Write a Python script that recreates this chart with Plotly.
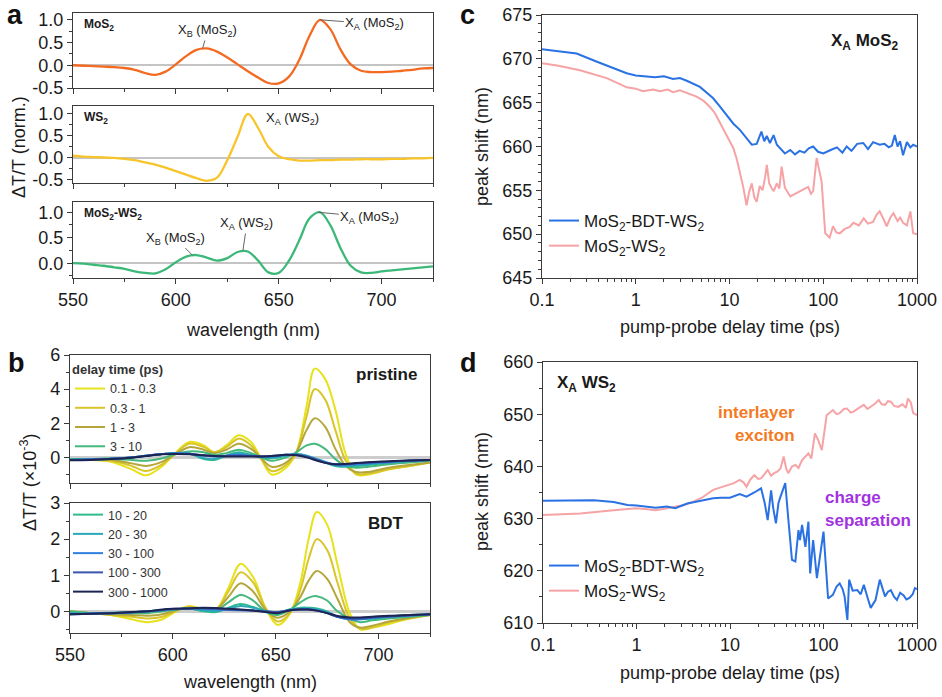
import plotly.graph_objects as go

W, H = 942, 697
FONT = "Liberation Sans, Arial, sans-serif"
AX = "#3a3a3a"

# ---------------- panel a : normalised spectra ----------------
wl_a = [550, 555, 560, 565, 570, 575, 580, 585, 590, 595, 600, 605, 610, 615, 620, 625, 630, 635,
        640, 645, 650, 655, 660, 665, 670, 675, 680, 685, 690, 695, 700, 705, 710, 715, 720, 725]
a_mos2 = [0.00, -0.01, -0.02, -0.03, -0.04, -0.06, -0.10, -0.17, -0.21, -0.14, 0.02, 0.20, 0.34, 0.37,
          0.30, 0.17, 0.02, -0.13, -0.27, -0.39, -0.40, -0.25, 0.12, 0.65, 1.00, 0.80, 0.35, 0.02,
          -0.12, -0.15, -0.15, -0.14, -0.12, -0.10, -0.07, -0.06]
a_ws2 = [0.05, 0.03, 0.02, 0.01, 0.00, -0.02, -0.05, -0.10, -0.15, -0.22, -0.30, -0.38, -0.46, -0.52,
         -0.45, -0.05, 0.48, 1.00, 0.68, 0.25, 0.04, -0.03, -0.06, -0.06, -0.05, -0.05, -0.04, -0.04,
         -0.03, -0.03, -0.03, -0.02, -0.02, -0.01, -0.01, 0.00]
a_hetero = [0.00, -0.01, -0.03, -0.05, -0.08, -0.11, -0.16, -0.19, -0.20, -0.12, 0.02, 0.13, 0.16, 0.11,
            0.05, 0.10, 0.22, 0.23, 0.05, -0.18, -0.19, 0.05, 0.45, 0.88, 1.00, 0.75, 0.30, -0.05,
            -0.18, -0.19, -0.16, -0.14, -0.12, -0.10, -0.08, -0.06]

# ---------------- panel b : spectra vs delay time ----------------
delay_labels = ["0.1 - 0.3", "0.3 - 1", "1 - 3", "3 - 10", "10 - 20",
                "20 - 30", "30 - 100", "100 - 300", "300 - 1000"]
delay_colors = ["#e6e21c", "#d9c42a", "#b4a63a", "#45b87c", "#2fba8c",
                "#2aa8b8", "#2f7fe0", "#3a55ae", "#1c2452"]

wl_b_pristine = [550, 560, 570, 580, 587, 595, 600, 608, 615, 620, 626, 632, 638, 643, 648, 655,
                 660, 665, 669, 674, 679, 684, 689, 695, 705, 715, 725]
pr_01_03 = [-0.1, -0.15, -0.25, -0.7, -1.05, -0.5, 0.1, 0.9, 0.7, 0.3, 0.7, 1.3, 0.9, -0.1, -1.0, -0.6,
            0.3, 3.0, 5.2, 4.6, 2.8, 0.2, -1.0, -1.0, -0.7, -0.5, -0.3]
pr_03_1 = [-0.1, -0.15, -0.2, -0.5, -0.8, -0.4, 0.1, 0.8, 0.6, 0.3, 0.6, 1.1, 0.7, -0.1, -0.8, -0.45,
           0.3, 2.4, 4.0, 3.4, 1.6, -0.2, -0.95, -0.95, -0.7, -0.5, -0.3]
pr_1_3 = [-0.1, -0.12, -0.15, -0.35, -0.5, -0.25, 0.1, 0.6, 0.45, 0.25, 0.45, 0.8, 0.5, -0.05, -0.55,
          -0.3, 0.3, 1.6, 2.3, 1.8, 0.5, -0.5, -0.85, -0.85, -0.6, -0.45, -0.3]
pr_3_10 = [-0.1, -0.1, -0.1, -0.15, -0.2, -0.05, 0.15, 0.35, 0.3, 0.15, 0.25, 0.45, 0.25, 0.0, -0.2,
           0.0, 0.3, 0.7, 0.8, 0.5, -0.1, -0.5, -0.6, -0.55, -0.4, -0.3, -0.2]
pr_10_20 = [-0.1, -0.1, -0.05, 0.0, 0.1, 0.2, 0.25, 0.25, -0.1, -0.15, 0.1, 0.3, 0.15, 0.0, -0.05,
            0.1, 0.2, 0.1, -0.1, -0.3, -0.5, -0.55, -0.5, -0.45, -0.3, -0.2, -0.15]
pr_20_30 = [-0.15, -0.12, -0.08, 0.0, 0.1, 0.2, 0.25, 0.22, -0.05, -0.1, 0.1, 0.25, 0.12, 0.05, 0.0,
            0.1, 0.2, 0.1, -0.05, -0.25, -0.45, -0.5, -0.45, -0.4, -0.3, -0.2, -0.15]
pr_30_100 = [-0.15, -0.12, -0.08, 0.0, 0.1, 0.2, 0.25, 0.22, 0.1, 0.05, 0.1, 0.15, 0.1, 0.05, 0.05,
             0.15, 0.15, 0.05, -0.1, -0.3, -0.45, -0.45, -0.4, -0.35, -0.28, -0.2, -0.15]
pr_100_300 = [-0.15, -0.12, -0.08, 0.0, 0.1, 0.2, 0.22, 0.2, 0.12, 0.08, 0.08, 0.1, 0.08, 0.05, 0.08,
              0.15, 0.15, 0.05, -0.1, -0.3, -0.4, -0.4, -0.35, -0.3, -0.25, -0.18, -0.15]
pr_300_1000 = [-0.17, -0.15, -0.1, -0.02, 0.08, 0.18, 0.2, 0.18, 0.12, 0.08, 0.06, 0.06, 0.06, 0.06,
               0.08, 0.15, 0.12, 0.0, -0.15, -0.32, -0.4, -0.38, -0.33, -0.28, -0.22, -0.18, -0.15]

wl_b_bdt = [550, 560, 570, 580, 588, 595, 601, 608, 615, 621, 627, 633, 639, 645, 651, 657, 662, 666,
            670, 675, 680, 686, 691, 697, 705, 715, 725]
bdt_01_03 = [0.0, -0.05, -0.1, -0.22, -0.3, -0.22, -0.02, 0.15, 0.05, 0.05, 0.65, 1.32, 0.95, 0.1,
             -0.38, -0.05, 0.8, 2.0, 2.75, 2.4, 1.3, -0.05, -0.5, -0.45, -0.35, -0.2, -0.1]
bdt_03_1 = [0.0, -0.05, -0.1, -0.15, -0.2, -0.15, 0.0, 0.12, 0.05, 0.05, 0.55, 1.08, 0.8, 0.1, -0.28,
            -0.05, 0.6, 1.45, 2.0, 1.7, 0.8, -0.2, -0.48, -0.45, -0.3, -0.2, -0.1]
bdt_1_3 = [0.0, -0.05, -0.08, -0.1, -0.12, -0.08, 0.02, 0.1, 0.05, 0.05, 0.4, 0.78, 0.55, 0.05, -0.18,
           0.0, 0.4, 0.85, 1.12, 0.9, 0.35, -0.3, -0.45, -0.4, -0.28, -0.18, -0.1]
bdt_3_10 = [0.0, -0.05, -0.05, -0.05, -0.05, 0.0, 0.05, 0.08, 0.03, 0.02, 0.25, 0.45, 0.3, 0.0, -0.1,
            0.05, 0.25, 0.38, 0.42, 0.3, 0.0, -0.2, -0.3, -0.25, -0.2, -0.15, -0.1]
bdt_10_20 = [-0.05, -0.05, -0.05, -0.03, 0.0, 0.03, 0.05, 0.08, 0.0, -0.02, 0.1, 0.2, 0.12, 0.0, -0.05,
             0.05, 0.1, 0.1, 0.08, 0.0, -0.15, -0.2, -0.2, -0.2, -0.15, -0.1, -0.1]
bdt_20_30 = [-0.05, -0.05, -0.04, -0.02, 0.0, 0.03, 0.06, 0.07, 0.03, 0.0, 0.08, 0.15, 0.1, 0.0, -0.03,
             0.05, 0.08, 0.08, 0.05, -0.02, -0.15, -0.22, -0.22, -0.2, -0.15, -0.1, -0.1]
bdt_30_100 = [-0.08, -0.07, -0.05, -0.03, 0.0, 0.04, 0.06, 0.08, 0.08, 0.06, 0.04, 0.03, 0.02, 0.0,
              -0.02, 0.03, 0.06, 0.06, 0.03, -0.05, -0.15, -0.22, -0.22, -0.18, -0.15, -0.12, -0.08]
bdt_100_300 = [-0.08, -0.07, -0.05, -0.03, 0.0, 0.04, 0.07, 0.08, 0.08, 0.07, 0.05, 0.04, 0.02, 0.0,
               -0.02, 0.03, 0.05, 0.05, 0.02, -0.05, -0.15, -0.2, -0.2, -0.17, -0.14, -0.11, -0.08]
bdt_300_1000 = [-0.08, -0.07, -0.05, -0.02, 0.0, 0.05, 0.07, 0.08, 0.1, 0.09, 0.07, 0.05, 0.02, -0.02,
                -0.05, 0.03, 0.05, 0.05, 0.02, -0.05, -0.13, -0.17, -0.17, -0.15, -0.12, -0.1, -0.08]

pristine_series = [pr_01_03, pr_03_1, pr_1_3, pr_3_10, pr_10_20, pr_20_30, pr_30_100, pr_100_300, pr_300_1000]
bdt_series = [bdt_01_03, bdt_03_1, bdt_1_3, bdt_3_10, bdt_10_20, bdt_20_30, bdt_30_100, bdt_100_300, bdt_300_1000]

# ---------------- panel c : X_A MoS2 peak shift ----------------
c_t_bdt = [0.1, 0.15, 0.234, 0.38, 0.55, 0.8, 1.0, 1.31, 1.6, 2.0, 2.5, 2.95, 3.5, 4.84, 6.7, 8, 9.3, 11,
           12.9, 15, 17.3, 19.5, 21.9, 23.5, 25, 27, 29.5, 32, 34.7, 39, 44.5, 50, 56, 63, 70, 78, 88,
           100, 120, 140, 160, 178, 200, 230, 267, 300, 340, 400, 450, 500, 540, 580, 620, 660, 710,
           780, 850, 910, 1000]
c_bdt = [671.1, 670.9, 670.6, 669.7, 669.0, 668.35, 668.1, 668.0, 667.9, 668.0, 667.7, 667.8, 667.5,
         666.8, 665.5, 664.5, 663.6, 662.6, 661.9, 661.0, 660.2, 660.3, 661.7, 660.6, 661.2, 660.4,
         661.3, 660.2, 659.8, 659.2, 659.6, 659.1, 659.5, 659.3, 659.8, 660.0, 659.4, 659.2, 659.6,
         659.9, 659.3, 660.0, 659.5, 660.3, 660.4, 659.7, 660.5, 660.2, 660.3, 659.9, 660.1, 661.3,
         660.0, 660.6, 659.0, 660.5, 659.9, 660.2, 660.0]
c_t_ref = [0.1, 0.15, 0.254, 0.35, 0.49, 0.65, 0.8, 1.0, 1.2, 1.53, 1.8, 2.2, 2.5, 2.95, 3.5, 4.46, 5.3,
           6.2, 7.0, 7.9, 9.0, 10, 11, 12, 13, 14, 15.2, 16.2, 17.3, 18.4, 19.5, 21, 22.5, 24, 25, 26.5,
           28, 29.6, 32, 34, 36, 39, 44.5, 50, 56, 62, 69, 74, 78, 85, 90, 96, 105, 117, 127, 138, 150,
           170, 190, 210, 240, 270, 300, 340, 370, 400, 440, 475, 520, 560, 620, 660, 710, 780, 850,
           910, 1000]
c_ref = [669.5, 669.2, 668.7, 668.3, 667.8, 667.2, 666.75, 666.6, 666.3, 666.5, 666.3, 666.5, 666.2,
         666.4, 666.1, 665.7, 665.2, 664.5, 663.8, 662.7, 661.5, 660.7, 659.8, 658.5, 657.0, 655.4,
         653.3, 654.8, 655.8, 654.2, 653.7, 655.5, 655.0, 656.5, 657.9, 655.8, 655.3, 654.9, 655.8,
         655.2, 657.7, 655.3, 654.3, 654.6, 654.9, 655.1, 655.4, 654.6, 654.9, 658.7, 657.5, 656.0,
         650.1, 649.6, 650.9, 650.2, 650.1, 650.6, 650.8, 651.3, 651.0, 651.8, 651.2, 651.4, 652.2,
         652.6, 651.7, 650.9, 651.9, 652.4, 651.5, 651.9, 651.3, 651.0, 652.6, 650.1, 650.0]

# ---------------- panel d : X_A WS2 peak shift ----------------
d_t_bdt = [0.1, 0.2, 0.35, 0.57, 0.8, 1.0, 1.3, 1.6, 2.1, 2.6, 3.5, 4.5, 5.5, 6.6, 8, 10, 12.7, 15, 18.2,
           21.5, 23.5, 25.3, 27.5, 29, 31, 33, 34.7, 37, 39, 42, 46, 50, 54, 56, 59, 64, 69, 72, 77.5,
           85, 92, 100, 112, 126, 138, 149, 160, 168, 180, 188, 205, 230, 250, 270, 300, 320, 360, 400,
           455, 490, 525, 570, 610, 660, 720, 770, 830, 900, 950, 1000]
d_bdt = [633.4, 633.4, 633.5, 633.2, 632.6, 632.5, 632.3, 632.1, 632.3, 632.0, 632.9, 633.3, 633.6,
         633.9, 634.0, 634.0, 634.7, 634.2, 635.0, 635.8, 633.0, 629.7, 635.4, 632.0, 629.1, 633.0,
         634.2, 635.5, 636.8, 630.0, 622.1, 621.8, 627.8, 625.9, 628.8, 624.6, 629.4, 619.5, 625.9,
         618.6, 622.7, 627.5, 614.7, 615.4, 617.0, 617.6, 616.5, 615.1, 610.6, 618.3, 616.2, 616.3,
         615.5, 617.3, 614.5, 612.9, 614.4, 618.3, 615.1, 616.0, 616.3, 615.0, 614.4, 615.8, 615.3,
         614.5, 614.8, 615.5, 616.7, 616.5]
d_t_ref = [0.1, 0.25, 0.57, 1.0, 1.3, 1.6, 2.0, 2.5, 3.2, 4.0, 5.0, 6.6, 8, 9.4, 11, 12.7, 14, 15, 16.5,
           18.2, 20, 21.5, 23.5, 25.3, 27.5, 29.6, 32, 34.7, 37.5, 40, 42, 46, 50, 54, 59, 64, 69, 74,
           81, 88, 96, 108, 117, 126, 138, 149, 165, 178, 195, 209, 240, 270, 295, 320, 355, 390, 420,
           455, 490, 525, 570, 630, 700, 760, 800, 860, 910, 1000]
d_ref = [630.7, 631.0, 631.6, 632.0, 631.8, 631.6, 631.9, 632.3, 632.6, 633.2, 634.0, 635.5, 636.0,
         636.4, 636.8, 637.4, 636.9, 636.1, 637.5, 638.3, 637.6, 637.7, 638.6, 639.3, 638.2, 638.7,
         639.0, 639.6, 641.9, 639.5, 638.7, 640.0, 640.3, 639.7, 641.2, 641.8, 642.5, 641.5, 646.3,
         645.0, 643.1, 649.8, 650.4, 650.8, 650.0, 650.2, 651.0, 651.1, 650.3, 650.5, 651.2, 651.8,
         651.0, 651.4, 652.0, 652.7, 651.9, 651.8, 652.5, 652.4, 651.6, 651.4, 651.9, 651.2, 653.0,
         652.2, 650.2, 649.8]

series_c_names = ["MoS<sub>2</sub>-BDT-WS<sub>2</sub>", "MoS<sub>2</sub>-WS<sub>2</sub>"]
BLUE, PINK = "#2a72e3", "#f6a3a6"
ORANGE, YELLOW, GREEN = "#f36a20", "#f8c42c", "#3cb879"


def px(x):
    return x / W


def py(y):
    return 1 - y / H


fig = go.Figure()

# panel a traces
for i, (vals, col) in enumerate([(a_mos2, ORANGE), (a_ws2, YELLOW), (a_hetero, GREEN)]):
    fig.add_trace(go.Scatter(x=wl_a, y=vals, mode="lines", line=dict(color=col, width=2.3, shape="spline"),
                             xaxis="x" if i == 0 else f"x{i+1}", yaxis="y" if i == 0 else f"y{i+1}",
                             showlegend=False, hoverinfo="skip"))

# panel b traces
for k in range(9):
    fig.add_trace(go.Scatter(x=wl_b_pristine, y=pristine_series[k], mode="lines", name=delay_labels[k],
                             line=dict(color=delay_colors[k], width=2, shape="spline"),
                             xaxis="x4", yaxis="y4", legend="legend", showlegend=k < 4))
for k in range(9):
    fig.add_trace(go.Scatter(x=wl_b_bdt, y=bdt_series[k], mode="lines", name=delay_labels[k],
                             line=dict(color=delay_colors[k], width=2, shape="spline"),
                             xaxis="x5", yaxis="y5", legend="legend2", showlegend=k >= 4))

# panel c traces
fig.add_trace(go.Scatter(x=c_t_bdt, y=c_bdt, mode="lines", name=series_c_names[0],
                         line=dict(color=BLUE, width=2), xaxis="x6", yaxis="y6", legend="legend3"))
fig.add_trace(go.Scatter(x=c_t_ref, y=c_ref, mode="lines", name=series_c_names[1],
                         line=dict(color=PINK, width=2), xaxis="x6", yaxis="y6", legend="legend3"))
# panel d traces (pink under blue)
fig.add_trace(go.Scatter(x=d_t_ref, y=d_ref, mode="lines", name=series_c_names[1],
                         line=dict(color=PINK, width=2), xaxis="x7", yaxis="y7", legend="legend4",
                         legendrank=2))
fig.add_trace(go.Scatter(x=d_t_bdt, y=d_bdt, mode="lines", name=series_c_names[0],
                         line=dict(color=BLUE, width=2), xaxis="x7", yaxis="y7", legend="legend4",
                         legendrank=1))

TICKF = dict(family=FONT, size=18, color="#1a1a1a")


def base_axis(dom, anchor, horiz):
    d = dict(domain=[px(dom[0]), px(dom[1])] if horiz else [py(dom[1]), py(dom[0])],
             anchor=anchor, showline=True, linecolor=AX, linewidth=1.3, mirror=True,
             ticks="outside", ticklen=5, tickwidth=1.3, tickcolor=AX, showgrid=False,
             zeroline=False, tickfont=TICKF, automargin=False)
    return d


minor_short = dict(ticks="outside", ticklen=3, tickwidth=1.1, tickcolor=AX)
log_minor = [m * 10 ** e for e in (-1, 0, 1, 2) for m in range(2, 10)]

layout_axes = {}
# panel a
a_rows = [(13, 88, [-0.5, 1.15]), (106, 183, [-0.57, 1.18]), (202, 278, [-0.29, 1.2])]
for i, (top, bot, rng) in enumerate(a_rows):
    xs = "xaxis" if i == 0 else f"xaxis{i+1}"
    ys = "yaxis" if i == 0 else f"yaxis{i+1}"
    xa = base_axis((73, 433), "y" if i == 0 else f"y{i+1}", True)
    xa.update(range=[550, 725], tickvals=[550, 600, 650, 700], showticklabels=(i == 2),
              minor=dict(dtick=25, tick0=550, **minor_short))
    ya = base_axis((top, bot), "x" if i == 0 else f"x{i+1}", False)
    tv = [-0.5, 0.0, 0.5, 1.0] if i < 2 else [0.0, 0.5, 1.0]
    ya.update(range=rng, tickvals=tv, ticktext=[f"{v:.1f}" for v in tv],
              zeroline=True, zerolinecolor="#c4c4c4", zerolinewidth=1.5,
              minor=dict(dtick=0.25, tick0=0, **minor_short))
    layout_axes[xs] = xa
    layout_axes[ys] = ya

# panel b
for j, (top, bot, rng, tv, mdt) in enumerate([(355, 483, [-1.5, 6], [0, 2, 4, 6], 1),
                                               (503, 633, [-0.6, 3], [0, 1, 2, 3], 0.5)]):
    n = 4 + j
    xa = base_axis((70, 430), f"y{n}", True)
    xa.update(range=[550, 725], tickvals=[550, 600, 650, 700], showticklabels=(j == 1),
              minor=dict(dtick=25, tick0=550, **minor_short))
    ya = base_axis((top, bot), f"x{n}", False)
    ya.update(range=rng, tickvals=tv, zeroline=True, zerolinecolor="#cdcdcd", zerolinewidth=3,
              minor=dict(dtick=mdt, tick0=0, **minor_short))
    layout_axes[f"xaxis{n}"] = xa
    layout_axes[f"yaxis{n}"] = ya

# panels c, d
for n, (xd, top, bot, rng, dt, mdt) in [(6, ((542, 917), 15, 278, [645, 675], 5, 1)),
                                        (7, ((543, 917), 362, 623, [610, 660], 10, 5))]:
    xa = base_axis(xd, f"y{n}", True)
    xa.update(type="log", range=[-1, 3], tickvals=[0.1, 1, 10, 100, 1000],
              ticktext=["0.1", "1", "10", "100", "1000"],
              minor=dict(tickmode="array", tickvals=log_minor, **minor_short))
    ya = base_axis((top, bot), f"x{n}", False)
    ya.update(range=rng, dtick=dt, tick0=rng[0], minor=dict(dtick=mdt, tick0=rng[0], **minor_short))
    layout_axes[f"xaxis{n}"] = xa
    layout_axes[f"yaxis{n}"] = ya

ann = []


def txt(x, y, s, size=13, bold=False, color="#1a1a1a", xanchor="center", angle=0):
    ann.append(dict(x=px(x), y=py(y), xref="paper", yref="paper", text=f"<b>{s}</b>" if bold else s,
                    showarrow=False, xanchor=xanchor, yanchor="middle", textangle=angle,
                    font=dict(family=FONT, size=size, color=color)))


def lab(xd, yd, axn, s, ax, ay):
    ann.append(dict(x=xd, y=yd, xref=f"x{axn}" if axn else "x", yref=f"y{axn}" if axn else "y",
                    text=s, showarrow=True, arrowhead=0, arrowwidth=1, arrowcolor="#666",
                    ax=ax, ay=ay, standoff=0, font=dict(family=FONT, size=13, color="#1a1a1a")))


# panel letters
for (x, y, s) in [(15, 15, "a"), (16, 363, "b"), (467, 15, "c"), (468, 363, "d")]:
    txt(x, y, s, size=27, bold=True, color="#111")

# panel a labels
txt(82, 25, "MoS<sub>2</sub>", size=12, bold=True, xanchor="left")
txt(82, 118, "WS<sub>2</sub>", size=12, bold=True, xanchor="left")
txt(82, 214, "MoS<sub>2</sub>-WS<sub>2</sub>", size=12, bold=True, xanchor="left")
lab(613, 0.37, None, "X<sub>B</sub> (MoS<sub>2</sub>)", 5, -18)
lab(670, 1.0, None, "X<sub>A</sub> (MoS<sub>2</sub>)", 55, 4)
txt(292, 118, "X<sub>A</sub> (WS<sub>2</sub>)", size=13)
lab(608, 0.16, 3, "X<sub>B</sub> (MoS<sub>2</sub>)", -17, -17)
lab(632.6, 0.25, 3, "X<sub>A</sub> (WS<sub>2</sub>)", 4, -27)
lab(669, 1.0, 3, "X<sub>A</sub> (MoS<sub>2</sub>)", 52, 5)

# axis titles
txt(19, 147, "ΔT/T (norm.)", size=18, angle=-90)
txt(253, 330, "wavelength (nm)", size=18)
txt(28, 483, "ΔT/T (×10<sup>-3</sup>)", size=18, angle=-90)
txt(250, 682, "wavelength (nm)", size=18)
txt(482, 147, "peak shift (nm)", size=18, angle=-90)
txt(730, 327, "pump-probe delay time (ps)", size=18)
txt(482, 492, "peak shift (nm)", size=18, angle=-90)
txt(730, 673, "pump-probe delay time (ps)", size=18)

# panel b labels
txt(386, 374, "pristine", size=17, bold=True)
txt(386, 523, "BDT", size=17, bold=True)

# panel c, d labels
txt(901, 42, "X<sub>A</sub> MoS<sub>2</sub>", size=17, bold=True, xanchor="right")
txt(555, 384, "X<sub>A</sub> WS<sub>2</sub>", size=17, bold=True, xanchor="left")
txt(797, 412, "interlayer", size=17, bold=True, color="#f47a22", xanchor="right")
txt(797, 435, "exciton", size=17, bold=True, color="#f47a22", xanchor="right")
txt(823, 497, "charge", size=17, bold=True, color="#a233df", xanchor="left")
txt(823, 520, "separation", size=17, bold=True, color="#a233df", xanchor="left")

leg_common = dict(bgcolor="rgba(0,0,0,0)", borderwidth=0, xanchor="left", yanchor="top",
                  itemwidth=30, tracegroupgap=0)

fig.update_layout(
    width=W, height=H, margin=dict(l=0, r=0, t=0, b=0, autoexpand=False),
    paper_bgcolor="white", plot_bgcolor="white",
    font=dict(family=FONT, color="#1a1a1a"),
    annotations=ann,
    legend=dict(x=px(70), y=py(357), title=dict(text="<b>delay time (ps)</b>", font=dict(size=13)),
                font=dict(size=12.5, family=FONT, color="#333"), **leg_common),
    legend2=dict(x=px(68), y=py(500), font=dict(size=12.5, family=FONT, color="#333"), **leg_common),
    legend3=dict(x=px(544), y=py(203), font=dict(size=17, family=FONT, color="#1a1a1a"), **leg_common),
    legend4=dict(x=px(544), y=py(548), font=dict(size=17, family=FONT, color="#1a1a1a"), **leg_common),
    **layout_axes,
)

fig.write_html("out.html", config={"displayModeBar": False},
               post_script="document.body.style.margin='0';document.body.style.overflow='hidden';")
